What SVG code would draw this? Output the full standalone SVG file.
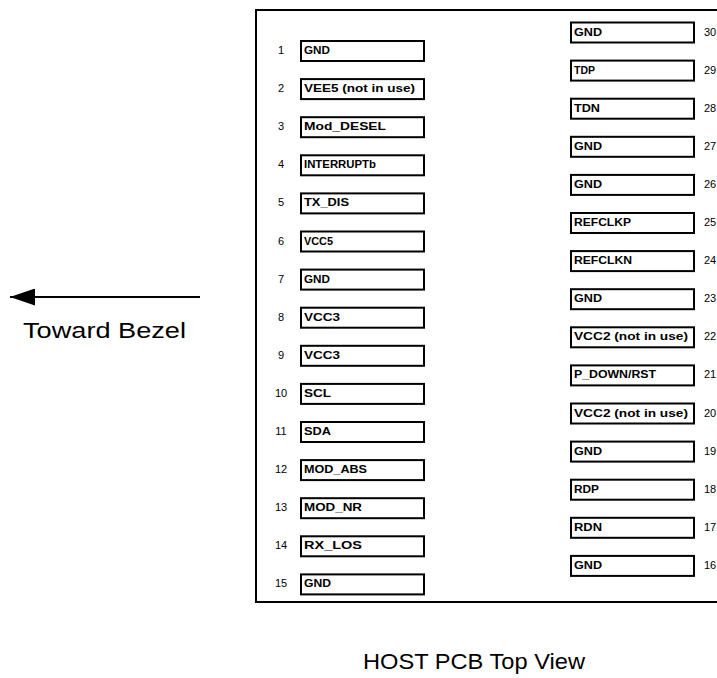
<svg xmlns="http://www.w3.org/2000/svg" width="717" height="678" viewBox="0 0 717 678">
<style>
.pin{fill:#fff;stroke:#000;stroke-width:2}
.lbl{font-family:"Liberation Sans",Arial,sans-serif;font-weight:bold;font-size:11px;fill:#000}
.num{font-family:"Liberation Sans",Arial,sans-serif;font-size:11px;fill:#000}
.numl{text-anchor:middle}
.big{font-family:"Liberation Sans",Arial,sans-serif;font-size:22px;fill:#000}
.line{fill:none;stroke:#000;stroke-width:2}
</style>
<defs>
<marker id="ah" markerWidth="25" markerHeight="17" refX="25" refY="8.5" orient="auto" markerUnits="userSpaceOnUse">
<path d="M0,0 L25,8.5 L0,17 Z" fill="#000"/>
</marker>
</defs>
<rect width="717" height="678" fill="#fff"/>
<g id="board">
<path class="line" d="M720,10 H256 V602 H720"/>
</g>
<g id="connectors">
<line x1="200" y1="297" x2="10" y2="297" stroke="#000" stroke-width="2" marker-end="url(#ah)"/>
</g>
<g id="toward-bezel"><text class="big" x="23" y="338" textLength="163" lengthAdjust="spacingAndGlyphs">Toward Bezel</text></g>
<g id="host-pcb"><text class="big" x="363" y="669" textLength="222" lengthAdjust="spacingAndGlyphs">HOST PCB Top View</text></g>

<g id="pin1" transform="translate(301,41)"><rect class="pin" width="123" height="20"/><text class="lbl" x="3" y="13" textLength="26" lengthAdjust="spacingAndGlyphs">GND</text><text class="num numl" x="-20" y="13">1</text></g>
<g id="pin2" transform="translate(301,79.1)"><rect class="pin" width="123" height="20"/><text class="lbl" x="3" y="13" textLength="111" lengthAdjust="spacingAndGlyphs">VEE5 (not in use)</text><text class="num numl" x="-20" y="13">2</text></g>
<g id="pin3" transform="translate(301,117.2)"><rect class="pin" width="123" height="20"/><text class="lbl" x="3" y="13" textLength="82" lengthAdjust="spacingAndGlyphs">Mod_DESEL</text><text class="num numl" x="-20" y="13">3</text></g>
<g id="pin4" transform="translate(301,155.3)"><rect class="pin" width="123" height="20"/><text class="lbl" x="3" y="13" textLength="72" lengthAdjust="spacingAndGlyphs">INTERRUPTb</text><text class="num numl" x="-20" y="13">4</text></g>
<g id="pin5" transform="translate(301,193.4)"><rect class="pin" width="123" height="20"/><text class="lbl" x="3" y="13" textLength="45" lengthAdjust="spacingAndGlyphs">TX_DIS</text><text class="num numl" x="-20" y="13">5</text></g>
<g id="pin6" transform="translate(301,231.5)"><rect class="pin" width="123" height="20"/><text class="lbl" x="3" y="13" textLength="29" lengthAdjust="spacingAndGlyphs">VCC5</text><text class="num numl" x="-20" y="13">6</text></g>
<g id="pin7" transform="translate(301,269.6)"><rect class="pin" width="123" height="20"/><text class="lbl" x="3" y="13" textLength="26" lengthAdjust="spacingAndGlyphs">GND</text><text class="num numl" x="-20" y="13">7</text></g>
<g id="pin8" transform="translate(301,307.7)"><rect class="pin" width="123" height="20"/><text class="lbl" x="3" y="13" textLength="36" lengthAdjust="spacingAndGlyphs">VCC3</text><text class="num numl" x="-20" y="13">8</text></g>
<g id="pin9" transform="translate(301,345.8)"><rect class="pin" width="123" height="20"/><text class="lbl" x="3" y="13" textLength="36" lengthAdjust="spacingAndGlyphs">VCC3</text><text class="num numl" x="-20" y="13">9</text></g>
<g id="pin10" transform="translate(301,383.9)"><rect class="pin" width="123" height="20"/><text class="lbl" x="3" y="13" textLength="27" lengthAdjust="spacingAndGlyphs">SCL</text><text class="num numl" x="-20" y="13">10</text></g>
<g id="pin11" transform="translate(301,422)"><rect class="pin" width="123" height="20"/><text class="lbl" x="3" y="13" textLength="27" lengthAdjust="spacingAndGlyphs">SDA</text><text class="num numl" x="-20" y="13">11</text></g>
<g id="pin12" transform="translate(301,460.1)"><rect class="pin" width="123" height="20"/><text class="lbl" x="3" y="13" textLength="63" lengthAdjust="spacingAndGlyphs">MOD_ABS</text><text class="num numl" x="-20" y="13">12</text></g>
<g id="pin13" transform="translate(301,498.2)"><rect class="pin" width="123" height="20"/><text class="lbl" x="3" y="13" textLength="58" lengthAdjust="spacingAndGlyphs">MOD_NR</text><text class="num numl" x="-20" y="13">13</text></g>
<g id="pin14" transform="translate(301,536.3)"><rect class="pin" width="123" height="20"/><text class="lbl" x="3" y="13" textLength="58" lengthAdjust="spacingAndGlyphs">RX_LOS</text><text class="num numl" x="-20" y="13">14</text></g>
<g id="pin15" transform="translate(301,574.4)"><rect class="pin" width="123" height="20"/><text class="lbl" x="3" y="13" textLength="27" lengthAdjust="spacingAndGlyphs">GND</text><text class="num numl" x="-20" y="13">15</text></g>

<g id="pin30" transform="translate(571,22.5)"><rect class="pin" width="123" height="20"/><text class="lbl" x="3" y="13" textLength="28" lengthAdjust="spacingAndGlyphs">GND</text><text class="num" x="133" y="13">30</text></g>
<g id="pin29" transform="translate(571,60.6)"><rect class="pin" width="123" height="20"/><text class="lbl" x="3" y="13" textLength="21" lengthAdjust="spacingAndGlyphs">TDP</text><text class="num" x="133" y="13">29</text></g>
<g id="pin28" transform="translate(571,98.7)"><rect class="pin" width="123" height="20"/><text class="lbl" x="3" y="13" textLength="26" lengthAdjust="spacingAndGlyphs">TDN</text><text class="num" x="133" y="13">28</text></g>
<g id="pin27" transform="translate(571,136.8)"><rect class="pin" width="123" height="20"/><text class="lbl" x="3" y="13" textLength="28" lengthAdjust="spacingAndGlyphs">GND</text><text class="num" x="133" y="13">27</text></g>
<g id="pin26" transform="translate(571,174.9)"><rect class="pin" width="123" height="20"/><text class="lbl" x="3" y="13" textLength="28" lengthAdjust="spacingAndGlyphs">GND</text><text class="num" x="133" y="13">26</text></g>
<g id="pin25" transform="translate(571,213)"><rect class="pin" width="123" height="20"/><text class="lbl" x="3" y="13" textLength="57" lengthAdjust="spacingAndGlyphs">REFCLKP</text><text class="num" x="133" y="13">25</text></g>
<g id="pin24" transform="translate(571,251.1)"><rect class="pin" width="123" height="20"/><text class="lbl" x="3" y="13" textLength="58" lengthAdjust="spacingAndGlyphs">REFCLKN</text><text class="num" x="133" y="13">24</text></g>
<g id="pin23" transform="translate(571,289.2)"><rect class="pin" width="123" height="20"/><text class="lbl" x="3" y="13" textLength="28" lengthAdjust="spacingAndGlyphs">GND</text><text class="num" x="133" y="13">23</text></g>
<g id="pin22" transform="translate(571,327.3)"><rect class="pin" width="123" height="20"/><text class="lbl" x="3" y="13" textLength="114" lengthAdjust="spacingAndGlyphs">VCC2 (not in use)</text><text class="num" x="133" y="13">22</text></g>
<g id="pin21" transform="translate(571,365.4)"><rect class="pin" width="123" height="20"/><text class="lbl" x="3" y="13" textLength="82" lengthAdjust="spacingAndGlyphs">P_DOWN/RST</text><text class="num" x="133" y="13">21</text></g>
<g id="pin20" transform="translate(571,403.5)"><rect class="pin" width="123" height="20"/><text class="lbl" x="3" y="13" textLength="114" lengthAdjust="spacingAndGlyphs">VCC2 (not in use)</text><text class="num" x="133" y="13">20</text></g>
<g id="pin19" transform="translate(571,441.6)"><rect class="pin" width="123" height="20"/><text class="lbl" x="3" y="13" textLength="28" lengthAdjust="spacingAndGlyphs">GND</text><text class="num" x="133" y="13">19</text></g>
<g id="pin18" transform="translate(571,479.7)"><rect class="pin" width="123" height="20"/><text class="lbl" x="3" y="13" textLength="25" lengthAdjust="spacingAndGlyphs">RDP</text><text class="num" x="133" y="13">18</text></g>
<g id="pin17" transform="translate(571,517.8)"><rect class="pin" width="123" height="20"/><text class="lbl" x="3" y="13" textLength="28" lengthAdjust="spacingAndGlyphs">RDN</text><text class="num" x="133" y="13">17</text></g>
<g id="pin16" transform="translate(571,555.9)"><rect class="pin" width="123" height="20"/><text class="lbl" x="3" y="13" textLength="28" lengthAdjust="spacingAndGlyphs">GND</text><text class="num" x="133" y="13">16</text></g>
</svg>
